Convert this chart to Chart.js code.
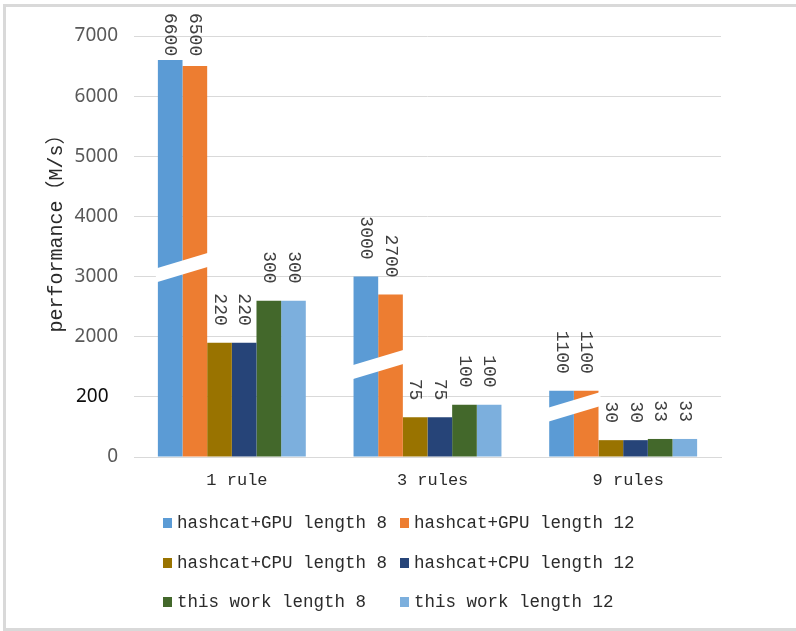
<!DOCTYPE html>
<html>
<head>
<meta charset="utf-8">
<script src="https://cdn.jsdelivr.net/npm/chart.js@4/dist/chart.umd.min.js"></script>
<style>
  html, body { margin: 0; padding: 0; background: #fff; }
  #wrap { position: relative; width: 796px; height: 631px; overflow: hidden; }
  #frame { position: absolute; left: 3px; top: 4px; width: 900px; height: 627px; box-sizing: border-box; border: 3px solid #d9d9d9; }
  #chart { position: absolute; left: 0; top: 0; }
  #legend { position: absolute; left: 0; top: 0; font-family: "Liberation Mono", "DejaVu Sans Mono", monospace; font-size: 17.5px; color: #2b2b2b; }
  .lg-item { position: absolute; display: flex; align-items: center; white-space: nowrap; height: 20px; }
  .lg-box { width: 9px; height: 10px; margin-right: 5px; }
</style>
</head>
<body>
<div id="wrap">
  <div id="frame"></div>
  <canvas id="chart" width="796" height="631"></canvas>
  <div id="legend"></div>
</div>
<script>
const categories = ['1 rule', '3 rules', '9 rules'];
const seriesNames = [
  'hashcat+GPU length 8', 'hashcat+GPU length 12',
  'hashcat+CPU length 8', 'hashcat+CPU length 12',
  'this work length 8', 'this work length 12'
];
const seriesColors = ['#5B9BD5', '#ED7D31', '#997300', '#264478', '#43682B', '#7CAFDD'];

// values printed above the bars (M/s)
const gpu8Values = [6600, 3000, 1100];
const gpu12Values = [6500, 2700, 1100];
const cpu8Values = [220, 75, 30];
const cpu12Values = [220, 75, 30];
const work8Values = [300, 100, 33];
const work12Values = [300, 100, 33];

// bar heights as drawn against the broken axis
const gpu8Heights = [6600, 3000, 1100];
const gpu12Heights = [6500, 2700, 1100];
const cpu8Heights = [1900, 660, 280];
const cpu12Heights = [1900, 660, 280];
const work8Heights = [2600, 870, 300];
const work12Heights = [2600, 870, 300];

const yTicks = [0, 1000, 2000, 3000, 4000, 5000, 6000, 7000];
const yTickLabels = ['0', '200', '2000', '3000', '4000', '5000', '6000', '7000'];

// axis break marks, one per category, placed at these axis values
const breakValues = [3150, 1540, 830];

const allValues = [gpu8Values, gpu12Values, cpu8Values, cpu12Values, work8Values, work12Values];
const allHeights = [gpu8Heights, gpu12Heights, cpu8Heights, cpu12Heights, work8Heights, work12Heights];

const MONO = '"Liberation Mono", "Noto Sans CJK SC", monospace';

const breakPlugin = {
  id: 'breaks',
  afterDatasetsDraw(chart) {
    const ctx = chart.ctx;
    const y = chart.scales.y;
    const m0 = chart.getDatasetMeta(0), m1 = chart.getDatasetMeta(1);
    ctx.save();
    ctx.fillStyle = '#fff';
    breakValues.forEach((v, i) => {
      const b0 = m0.data[i], b1 = m1.data[i];
      const x0 = b0.x - b0.width / 2 - 2;
      const x1 = b1.x + b1.width / 2 + 2;
      const cx = (x0 + x1) / 2;
      const cy = y.getPixelForValue(v);
      const slope = -0.3, half = 7;
      ctx.beginPath();
      ctx.moveTo(x0, cy - half + slope * (x0 - cx));
      ctx.lineTo(x1, cy - half + slope * (x1 - cx));
      ctx.lineTo(x1, cy + half + slope * (x1 - cx));
      ctx.lineTo(x0, cy + half + slope * (x0 - cx));
      ctx.closePath();
      ctx.fill();
    });
    ctx.restore();
  }
};

const labelPlugin = {
  id: 'barLabels',
  afterDraw(chart) {
    const ctx = chart.ctx;
    ctx.save();
    ctx.font = '18px ' + MONO;
    ctx.fillStyle = '#404040';
    ctx.textAlign = 'right';
    ctx.textBaseline = 'middle';
    chart.data.datasets.forEach((ds, di) => {
      chart.getDatasetMeta(di).data.forEach((bar, i) => {
        const txt = String(allValues[di][i]);
        const w = ctx.measureText(txt).width;
        const end = Math.max(bar.y - 17, 13 + w);
        ctx.save();
        ctx.translate(bar.x, end);
        ctx.rotate(Math.PI / 2);
        ctx.fillText(txt, 0, 0);
        ctx.restore();
      });
    });
    ctx.restore();
  }
};

const chart = new Chart(document.getElementById('chart').getContext('2d'), {
  type: 'bar',
  data: {
    labels: categories.map(c => ' ' + c),
    datasets: seriesNames.map((name, i) => ({
      label: name,
      data: allHeights[i],
      backgroundColor: seriesColors[i],
      borderWidth: 0,
      categoryPercentage: 0.756,
      barPercentage: 1
    }))
  },
  options: {
    responsive: false,
    devicePixelRatio: 1,
    animation: false,
    layout: { padding: { left: 0, right: 75, top: 36, bottom: 134 } },
    plugins: {
      legend: { display: false },
      tooltip: { enabled: false }
    },
    scales: {
      x: {
        grid: { display: false, drawTicks: false },
        border: { display: true, color: '#d9d9d9', width: 1 },
        ticks: { color: '#2b2b2b', font: { family: MONO, size: 17 }, padding: 13 },
        afterFit: s => { s.height = 40; }
      },
      y: {
        min: 0,
        max: 7000,
        afterBuildTicks: s => { s.ticks = yTicks.map(v => ({ value: v })); },
        grid: { color: '#d9d9d9', drawTicks: false },
        border: { display: false },
        ticks: {
          padding: 16,
          font: { family: '"Noto Sans", sans-serif', size: 19 },
          color: c => c.tick && c.tick.value === 1000 ? '#0d0d0d' : '#595959',
          callback: v => {
            const lbl = yTickLabels[yTicks.indexOf(v)];
            return v === 1000 ? lbl + '\u2002' : lbl;
          }
        },
        title: {
          display: true,
          text: '   performance（M/s）',
          color: '#2b2b2b',
          font: { family: MONO, size: 20, lineHeight: 1.2 },
          padding: { top: 45, bottom: 0 }
        },
        afterFit: s => { s.width = 134; }
      }
    }
  },
  plugins: [breakPlugin, labelPlugin]
});

// legend, two columns by three rows
const legend = document.getElementById('legend');
const colX = [163, 400];
const rowY = [513, 553, 592];
chart.data.datasets.forEach((ds, i) => {
  const item = document.createElement('div');
  item.className = 'lg-item';
  item.style.left = colX[i % 2] + 'px';
  item.style.top = rowY[Math.floor(i / 2)] + 'px';
  item.innerHTML = `<span class="lg-box" style="background:${ds.backgroundColor}"></span><span>${ds.label}</span>`;
  legend.appendChild(item);
});
</script>
</body>
</html>
